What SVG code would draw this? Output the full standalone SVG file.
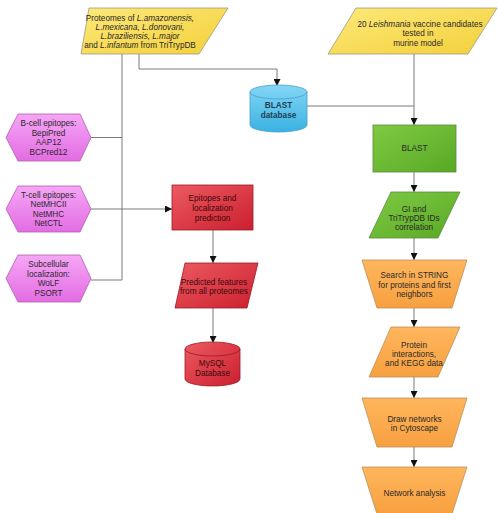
<svg xmlns="http://www.w3.org/2000/svg" width="498" height="513" viewBox="0 0 498 513">
<defs>
<linearGradient id="gY" x1="0" y1="0" x2="1" y2="1"><stop offset="0" stop-color="#fde97a"/><stop offset="1" stop-color="#f3cf3a"/></linearGradient>
<linearGradient id="gP" x1="0" y1="0" x2="0" y2="1"><stop offset="0" stop-color="#f6a6f6"/><stop offset="1" stop-color="#e36ce3"/></linearGradient>
<linearGradient id="gR" x1="0" y1="0" x2="1" y2="1"><stop offset="0" stop-color="#ec5a62"/><stop offset="1" stop-color="#cc1f2e"/></linearGradient>
<linearGradient id="gG" x1="0" y1="0" x2="1" y2="1"><stop offset="0" stop-color="#80ca44"/><stop offset="1" stop-color="#58a824"/></linearGradient>
<linearGradient id="gO" x1="0" y1="0" x2="0" y2="1"><stop offset="0" stop-color="#ffb65c"/><stop offset="1" stop-color="#f7a040"/></linearGradient>
<linearGradient id="gB" x1="0" y1="0" x2="0" y2="1"><stop offset="0" stop-color="#84d6f6"/><stop offset="1" stop-color="#3ab2e2"/></linearGradient>
<marker id="ah" viewBox="0 0 10 10" refX="10" refY="5" markerWidth="7" markerHeight="7" markerUnits="userSpaceOnUse" orient="auto"><path d="M0,0 L10,5 L0,10 z" fill="#111"/></marker>
</defs>
<style>
text{font-family:"Liberation Sans",Arial,sans-serif;font-size:8.2px;fill:#2a2a2a;text-anchor:middle}
.it{font-style:italic}
.y{fill:url(#gY);stroke:#a09a80;stroke-width:0.8}
.p{fill:url(#gP);stroke:#b060b0;stroke-width:0.8}
.r{fill:url(#gR);stroke:#9a1a26;stroke-width:0.8}
.g{fill:url(#gG);stroke:#5a8a40;stroke-width:0.8}
.o{fill:url(#gO);stroke:#b89060;stroke-width:0.8}
.b{fill:url(#gB);stroke:#4aa0c8;stroke-width:0.8}
.rt{fill:#3a0a0a}
.c{fill:none;stroke:#7a7a7a;stroke-width:1}
.ca{fill:none;stroke:#7a7a7a;stroke-width:1;marker-end:url(#ah)}
</style>
<rect width="498" height="513" fill="#ffffff"/>
<g id="connectors">
<path class="c" d="M122,54 V280"/>
<path class="c" d="M91,137.5 H122"/>
<path class="c" d="M91,280 H122"/>
<path class="ca" d="M91,209 H172"/>
<path class="ca" d="M139,54 V69 H277 V86"/>
<path class="c" d="M307,106 H414"/>
<path class="ca" d="M414,54 V125"/>
<path class="ca" d="M213,230 V263"/>
<path class="ca" d="M213,308 V343"/>
<path class="ca" d="M414,172 V192"/>
<path class="ca" d="M414,238 V260"/>
<path class="ca" d="M414,308 V327"/>
<path class="ca" d="M414,377 V398"/>
<path class="ca" d="M414,447 V467"/>
</g>
<g id="proteomes">
<path class="y" d="M89,8 H228 L199,54 H81 Z"/>
<text x="140" y="21">Proteomes of <tspan class="it">L.amazonensis,</tspan></text>
<text x="140" y="30"><tspan class="it">L.mexicana, L.donovani,</tspan></text>
<text x="140" y="39"><tspan class="it">L.braziliensis, L.major</tspan></text>
<text x="140" y="48">and <tspan class="it">L.infantum</tspan> from TriTrypDB</text>
</g>
<g id="candidates">
<path class="y" d="M356,8 H497 L468,54 H328 Z"/>
<text x="420" y="27">20 <tspan class="it">Leishmania</tspan> vaccine candidates</text>
<text x="418" y="36">tested in</text>
<text x="418" y="46">murine model</text>
</g>
<g id="blastdb">
<path class="b" d="M250,92 A28.5,7 0 0 1 307,92 V125 A28.5,7 0 0 1 250,125 Z"/>
<path fill="none" stroke="#4aa0c8" stroke-width="0.8" d="M250,92 A28.5,7 0 0 0 307,92"/>
<text x="278.5" y="108" style="font-weight:bold;fill:#1d3f55">BLAST</text>
<text x="278.5" y="118" style="font-weight:bold;fill:#1d3f55">database</text>
</g>
<g id="bcell">
<path class="p" d="M6,137.5 L18,114 H80 L91,137.5 L80,161 H18 Z"/>
<text x="48.5" y="126">B-cell epitopes:</text>
<text x="48.5" y="135.5">BepiPred</text>
<text x="48.5" y="145">AAP12</text>
<text x="48.5" y="154.5">BCPred12</text>
</g>
<g id="tcell">
<path class="p" d="M6,209 L18,186 H80 L91,209 L80,232 H18 Z"/>
<text x="48.5" y="197.5">T-cell epitopes:</text>
<text x="48.5" y="207">NetMHCII</text>
<text x="48.5" y="216.5">NetMHC</text>
<text x="48.5" y="226">NetCTL</text>
</g>
<g id="subcellular">
<path class="p" d="M6,278.5 L18,255 H80 L91,278.5 L80,302 H18 Z"/>
<text x="48.5" y="267">Subcellular</text>
<text x="48.5" y="276.5">localization:</text>
<text x="48.5" y="286">WoLF</text>
<text x="48.5" y="295.5">PSORT</text>
</g>
<g id="epitopes">
<rect class="r" x="172" y="185" width="81" height="45"/>
<text class="rt" x="212.5" y="201">Epitopes and</text>
<text class="rt" x="212.5" y="211">localization</text>
<text class="rt" x="212.5" y="221">prediction</text>
</g>
<g id="predicted">
<path class="r" d="M185,263 H258 L247,308 H175 Z"/>
<text class="rt" x="214" y="284.5">Predicted features</text>
<text class="rt" x="214" y="294">from all proteomes</text>
</g>
<g id="mysql">
<path class="r" d="M185,349 A27.5,7 0 0 1 240,349 V379 A27.5,7 0 0 1 185,379 Z"/>
<path fill="none" stroke="#9a1a26" stroke-width="0.8" d="M185,349 A27.5,7 0 0 0 240,349"/>
<text class="rt" x="212.5" y="366">MySQL</text>
<text class="rt" x="212.5" y="376">Database</text>
</g>
<g id="blast">
<rect class="g" x="373" y="125" width="83" height="47"/>
<text x="414.5" y="151">BLAST</text>
</g>
<g id="gi">
<path class="g" d="M391,192 H460 L438,238 H369 Z"/>
<text x="414" y="212">GI and</text>
<text x="414" y="221">TriTrypDB IDs</text>
<text x="414" y="229.5">correlation</text>
</g>
<g id="search">
<path class="o" d="M362,260 H467 L452,308 H377 Z"/>
<text x="414.5" y="278">Search in STRING</text>
<text x="414.5" y="288">for proteins and first</text>
<text x="414.5" y="297">neighbors</text>
</g>
<g id="protein">
<path class="o" d="M391,327 H460 L438,377 H369 Z"/>
<text x="414" y="348">Protein</text>
<text x="414" y="357">interactions,</text>
<text x="414" y="366">and KEGG data</text>
</g>
<g id="draw">
<path class="o" d="M362,398 H467 L452,447 H377 Z"/>
<text x="414.5" y="422">Draw networks</text>
<text x="414.5" y="431">in Cytoscape</text>
</g>
<g id="network">
<path class="o" d="M362,467 H467 L452,514 H377 Z"/>
<text x="414.5" y="496">Network analysis</text>
</g>
</svg>
